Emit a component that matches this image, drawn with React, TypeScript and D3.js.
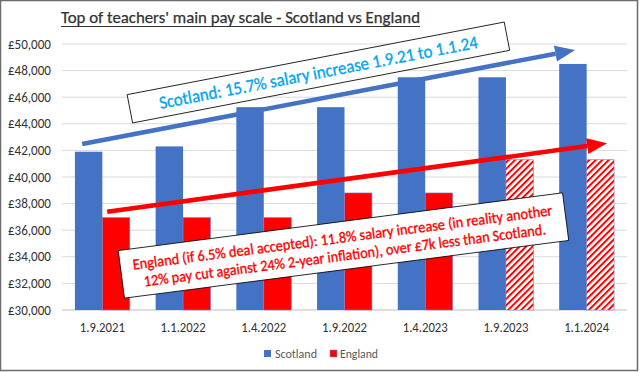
import React from "react";
import * as d3 from "d3";

// data
const categories = ["1.9.2021", "1.1.2022", "1.4.2022", "1.9.2022", "1.4.2023", "1.9.2023", "1.1.2024"];
const scotland = [41900, 42300, 45250, 45250, 47500, 47500, 48500];
const england = [36950, 36950, 36950, 38800, 38800, 41300, 41300];
const englandProposed = [false, false, false, false, false, true, true];
const seriesNames = ["Scotland", "England"];
const yTicks = [30000, 32000, 34000, 36000, 38000, 40000, 42000, 44000, 46000, 48000, 50000];

const title = "Top of teachers' main pay scale - Scotland vs England";
const scotNote = "Scotland: 15.7% salary increase 1.9.21 to 1.1.24";
const engNote = [
  "England (if 6.5% deal accepted): 11.8% salary increase (in reality another",
  "12% pay cut against 24% 2-year inflation), over £7k less than Scotland.",
];

const W = 640;
const H = 372;
const FONT = "Carlito, Calibri, Lato, sans-serif";
const BLUE = "#4472C4";
const RED = "#FF0000";
const INK = "#333333";

const x0 = d3.scaleBand<string>().domain(categories).range([62, 627]).paddingInner(0.32).paddingOuter(0.16);
const x1 = d3.scaleBand<string>().domain(seriesNames).range([0, x0.bandwidth()]);
const y = d3.scaleLinear().domain([30000, 50000]).range([310, 44]);
// category index -> pixel, for the trend arrows
const xi = d3.scaleLinear().domain([-0.5, categories.length - 0.5]).range([62, 627]);
const fmt = (v: number) => "£" + d3.format(",")(v);

function Arrow({ from, to, color, head = 20, half = 8, width = 4.5 }) {
  const x1p = xi(from[0]), y1p = y(from[1]);
  const x2p = xi(to[0]), y2p = y(to[1]);
  const a = Math.atan2(y2p - y1p, x2p - x1p);
  const bx = x2p - head * Math.cos(a), by = y2p - head * Math.sin(a);
  const px = -Math.sin(a) * half, py = Math.cos(a) * half;
  return (
    <g>
      <line x1={x1p} y1={y1p} x2={bx} y2={by} stroke={color} strokeWidth={width} />
      <polygon points={`${x2p},${y2p} ${bx + px},${by + py} ${bx - px},${by - py}`} fill={color} />
    </g>
  );
}

export default function App() {
  return (
    <div style={{ position: "fixed", left: 0, top: 0 }}>
      <svg width={W} height={H} style={{ display: "block", background: "#fff" }}>
        <defs>
          <pattern id="hatch" width="4.6" height="4.6" patternUnits="userSpaceOnUse" patternTransform="rotate(45)">
            <rect width="4.6" height="4.6" fill="#fff" />
            <rect width="2" height="4.6" fill={RED} />
          </pattern>
        </defs>
        <rect x={0.5} y={0.5} width={637} height={370} fill="#fff" stroke="#6b6b6b" strokeWidth={1.5} />

        {/* title */}
        <text x={61} y={23} fontFamily={FONT} fontSize={16.5} fill={INK} stroke={INK} strokeWidth={0.25} textLength={359} lengthAdjust="spacingAndGlyphs">
          {title}
        </text>
        <line x1={61} x2={420} y1={26.5} y2={26.5} stroke={INK} strokeWidth={1} />

        {/* grid + y axis */}
        {yTicks.map((t) => (
          <g key={t}>
            <line x1={62} x2={627} y1={y(t)} y2={y(t)} stroke={t === 30000 ? "#BFBFBF" : "#D9D9D9"} strokeWidth={1} />
            <text x={51} y={y(t) + 4.5} textAnchor="end" fontFamily={FONT} fontSize={13.5} fill={INK} textLength={43} lengthAdjust="spacingAndGlyphs">
              {fmt(t)}
            </text>
          </g>
        ))}

        {/* bars */}
        {categories.map((c, i) => (
          <g key={c} transform={`translate(${x0(c)},0)`}>
            <rect x={x1("Scotland")} y={y(scotland[i])} width={x1.bandwidth()} height={y(30000) - y(scotland[i])} fill={BLUE} />
            <rect
              x={x1("England")}
              y={y(england[i])}
              width={x1.bandwidth()}
              height={y(30000) - y(england[i])}
              fill={englandProposed[i] ? "url(#hatch)" : RED}
              stroke="#7f7fd0"
              strokeWidth={0.6}
            />
          </g>
        ))}

        {/* x labels */}
        {categories.map((c) => (
          <text key={c} x={(x0(c) as number) + x0.bandwidth() / 2} y={332} textAnchor="middle" fontFamily={FONT} fontSize={13.5} fill={INK} textLength={45} lengthAdjust="spacingAndGlyphs">
            {c}
          </text>
        ))}

        {/* trend arrows */}
        <Arrow from={[-0.25, 42480]} to={[5.857, 49550]} color={BLUE} />
        <Arrow from={[0.06, 37390]} to={[6.253, 42530]} color={RED} />

        {/* Scotland note */}
        <g transform="translate(318.4,72.5) rotate(-10.9)">
          <rect x={-192} y={-14.4} width={384} height={28.8} fill="#fff" stroke="#000" strokeWidth={0.8} />
          <text x={0} y={6} textAnchor="middle" fontFamily={FONT} fontSize={18} fill="#00A6EE" stroke="#00A6EE" strokeWidth={0.35} textLength={324} lengthAdjust="spacingAndGlyphs">
            {scotNote}
          </text>
        </g>

        {/* England note */}
        <g transform="translate(343.5,245.5) rotate(-7.4)">
          <rect x={-224} y={-24} width={448} height={48} fill="#fff" stroke="#000" strokeWidth={0.8} />
          <text x={0} y={-3} textAnchor="middle" fontFamily={FONT} fontSize={15.5} fill={RED} stroke={RED} strokeWidth={0.35} textLength={423} lengthAdjust="spacingAndGlyphs">
            {engNote[0]}
          </text>
          <text x={0} y={15} textAnchor="middle" fontFamily={FONT} fontSize={15.5} fill={RED} stroke={RED} strokeWidth={0.35} textLength={405} lengthAdjust="spacingAndGlyphs">
            {engNote[1]}
          </text>
        </g>

        {/* legend */}
        <rect x={264} y={350} width={7} height={7} fill={BLUE} />
        <text x={275} y={357.5} fontFamily={FONT} fontSize={13} fill="#595959" textLength={42} lengthAdjust="spacingAndGlyphs">Scotland</text>
        <rect x={330} y={350} width={7} height={7} fill={RED} stroke="#7f7fd0" strokeWidth={0.6} />
        <text x={340} y={357.5} fontFamily={FONT} fontSize={13} fill="#595959" textLength={38} lengthAdjust="spacingAndGlyphs">England</text>
      </svg>
    </div>
  );
}
